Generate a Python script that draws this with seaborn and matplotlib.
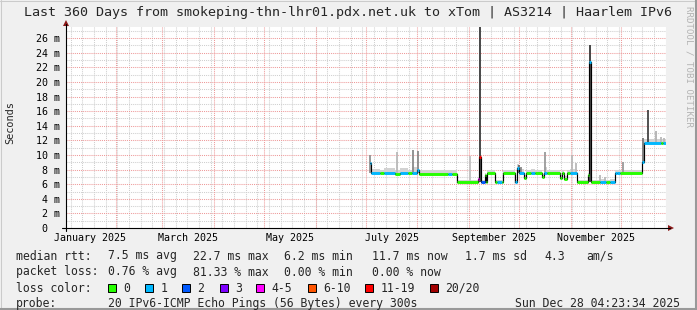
import datetime as dt
import numpy as np
import pandas as pd
import matplotlib
matplotlib.use("Agg")
import matplotlib.pyplot as plt
from matplotlib.patches import Polygon, Rectangle
from matplotlib.lines import Line2D
from matplotlib.transforms import IdentityTransform
import seaborn as sns

# ---------------- data ----------------
title = "Last 360 Days from smokeping-thn-lhr01.pdx.net.uk to xTom | AS3214 | Haarlem IPv6"
start = dt.datetime(2025, 1, 2, 4, 23, 34)
span_days = 360.0

# median rtt steps (day offset from start, median ms, loss class)
seg_day = [182.1, 183.0, 188.4, 190.8, 197.4, 200.4, 205.2, 207.6, 210.6, 211.8,
           229.2, 231.6, 234.6, 247.2, 247.8, 248.7, 251.4, 252.0, 252.6, 257.4,
           258.6, 261.6, 262.2, 269.4, 270.6, 271.8, 274.8, 276.0, 279.0, 281.4,
           285.6, 286.5, 288.6, 296.4, 297.6, 298.5, 300.6, 302.4, 306.6, 313.2,
           313.8, 314.7, 320.4, 324.0, 326.4, 329.4, 330.6, 332.4, 345.6, 346.8,
           357.0, 358.2]
seg_median = [8.9, 7.55, 7.5, 7.55, 7.45, 7.55, 7.5, 7.6, 7.9, 7.45,
              7.45, 7.45, 6.25, 6.7, 9.7, 6.25, 7.3, 6.3, 7.5, 6.3,
              6.3, 6.3, 7.6, 6.3, 8.2, 7.5, 6.9, 7.6, 7.6, 7.6,
              7.0, 7.6, 7.5, 6.9, 7.5, 6.7, 7.6, 7.6, 6.25, 7.2,
              22.8, 6.25, 6.25, 6.25, 6.25, 7.6, 7.5, 7.5, 9.1, 11.7,
              11.7, 11.7]
seg_loss = [1, 1, 0, 1, 0, 1, 0, 1, 1, 0,
            1, 0, 0, 4, 6, 2, 0, 0, 0, 0,
            1, 0, 0, 1, 1, 1, 0, 0, 1, 0,
            0, 1, 0, 0, 0, 0, 0, 1, 0, 0,
            1, 0, 1, 0, 1, 1, 1, 0, 1, 1,
            0, 1]
seg_smoke_hi = [9.4, 8.1, 8.0, 8.2, 8.0, 8.2, 8.0, 8.3, 8.4, 7.9,
                7.9, 7.9, 6.6, 7.0, 10.0, 6.6, 7.6, 6.6, 7.9, 6.6,
                6.6, 6.6, 8.0, 6.7, 8.7, 8.1, 7.3, 8.0, 8.1, 8.0,
                7.4, 8.3, 7.9, 7.3, 7.9, 7.1, 8.0, 8.1, 6.6, 7.6,
                25.1, 6.6, 6.7, 6.6, 6.7, 8.0, 8.0, 7.9, 9.6, 12.2,
                12.2, 12.2]
data_end_day = 360.0

# smoke spikes (day, lowest ping, highest ping, ping density 0..1)
spike_day = [182.1, 198.6, 208.2, 211.2, 242.4, 248.1, 271.8, 273.0, 287.1,
             303.6, 306.0, 314.1, 320.4, 323.4, 334.2, 346.2, 349.2, 354.0,
             357.0, 358.8]
spike_low = [7.6, 7.6, 7.6, 7.6, 6.3, 6.3, 7.5, 7.5, 7.6,
             7.6, 7.6, 6.3, 6.3, 6.3, 7.5, 9.1, 11.7, 11.7,
             11.7, 11.7]
spike_high = [10.0, 10.4, 10.7, 10.6, 9.8, 30.0, 8.6, 8.4, 10.4,
              10.0, 8.9, 25.1, 7.2, 7.0, 9.0, 12.3, 16.2, 13.3,
              12.5, 12.3]
spike_density = [0.45, 0.2, 0.5, 0.5, 0.15, 1.0, 0.7, 0.5, 0.4,
                 0.2, 0.2, 1.0, 0.2, 0.2, 0.4, 0.6, 0.95, 0.25,
                 0.2, 0.2]

loss_labels = ["0", "1", "2", "3", "4-5", "6-10", "11-19", "20/20"]
loss_colors = ["#26ff00", "#00b8ff", "#0059ff", "#7e00ff", "#ff00ff",
               "#ff5500", "#ff0000", "#a10000"]

y_ticks = list(range(0, 27, 2))
y_tick_labels = ["0  "] + [f"{v} m" for v in range(2, 27, 2)]
x_label_months = [1, 3, 5, 7, 9, 11]
x_label_texts = ["January 2025", "March 2025", "May 2025", "July 2025",
                 "September 2025", "November 2025"]

legend_rows = [
    ["median rtt:", "7.5 ms avg", "22.7 ms max", "6.2 ms min", "11.7 ms now", "1.7 ms sd", "4.3", "am/s"],
    ["packet loss:", "0.76 % avg", "81.33 % max", "0.00 % min", "0.00 % now"],
]
probe_text = "20 IPv6-ICMP Echo Pings (56 Bytes) every 300s"
stamp_text = "Sun Dec 28 04:23:34 2025"

# ---------------- layout ----------------
W, H = 697, 310
sns.set_style("white")
plt.rcParams["font.family"] = ["DejaVu Sans Mono", "DejaVu Sans"]
BG = "#F0F0F0"

fig = plt.figure(figsize=(W / 100, H / 100), dpi=100, facecolor=BG)
PX_MS = 7.3
ax = fig.add_axes([66 / W, (H - 228) / H, 600 / W, 201 / H])
ax.set_facecolor("white")
ax.set_xlim(0, span_days)
ax.set_ylim(0, 201 / PX_MS)
for s in ax.spines.values():
    s.set_visible(False)


def day_of(d):
    return (d - start).total_seconds() / 86400.0


# grid
dash = (0, (1, 1))
for v in range(1, 28):
    col = "#EE9A9A" if v % 2 == 0 else "#CFCFCF"
    ax.axhline(v, color=col, lw=0.75, ls=dash, zorder=0.5)
sunday = dt.datetime(2025, 1, 5)
while day_of(sunday) < span_days:
    ax.axvline(day_of(sunday), color="#CFCFCF", lw=0.75, ls=dash, zorder=0.4)
    sunday += dt.timedelta(days=7)
month_starts = [dt.datetime(2025, m, 1) for m in range(2, 13)]
for m in month_starts:
    ax.axvline(day_of(m), color="#EE9A9A", lw=0.75, ls=dash, zorder=0.5)

# smoke
days_ext = seg_day + [data_end_day]
for i in range(len(seg_day)):
    ax.fill_between([days_ext[i], days_ext[i + 1]], [seg_median[i]] * 2,
                    [seg_smoke_hi[i]] * 2, color="#D2D2D2", lw=0, zorder=1)
shades = [str(round(0.85 - 0.62 * d, 3)) for d in spike_density]
ax.vlines(spike_day, spike_low, spike_high, colors=shades, lw=1.3, zorder=1.5)

# median: thin black step line + loss-coloured stripes
df = pd.DataFrame({"day": days_ext, "median": seg_median + [seg_median[-1]]})
sns.lineplot(data=df, x="day", y="median", drawstyle="steps-post", color="black",
             lw=0.85, ax=ax, legend=False, estimator=None, sort=False, zorder=2)
ax.hlines(seg_median, seg_day, days_ext[1:],
          colors=[loss_colors[l] for l in seg_loss], lw=2.1, zorder=3)

# ticks
ax.set_yticks(y_ticks)
ax.set_yticklabels(y_tick_labels)
mid_month = []
for m in x_label_months:
    a = dt.datetime(2025, m, 1)
    b = dt.datetime(2025, m + 1, 1)
    mid_month.append(day_of(a + (b - a) / 2))
ax.set_xticks(mid_month)
ax.set_xticklabels(x_label_texts)
ax.tick_params(axis="y", length=0, pad=4.3, labelsize=7.2, colors="black")
ax.tick_params(axis="x", length=0, pad=3.4, labelsize=7.2, colors="black")
ax.set_xlabel("")
ax.set_ylabel("")

# axes lines and arrows (pixel coordinates)
idt = IdentityTransform()
fig.add_artist(Line2D([62, 670], [H - 228, H - 228], color="black", lw=0.8, transform=idt))
fig.add_artist(Line2D([66, 66], [H - 231, H - 24], color="black", lw=0.8, transform=idt))
fig.add_artist(Polygon([[668, H - 225], [668, H - 231], [674, H - 228]], closed=True,
                       facecolor="#8B1A1A", edgecolor="none", transform=idt))
fig.add_artist(Polygon([[63, H - 26], [69, H - 26], [66, H - 20]], closed=True,
                       facecolor="#8B1A1A", edgecolor="none", transform=idt))

# texts
def ftext(x, y, s, **kw):
    fig.text(x / W, 1 - y / H, s, **kw)

ftext(347.5, 12.5, title, ha="center", va="center", fontsize=9.6)
ftext(10, 122.5, "Seconds", ha="center", va="center", rotation=90, fontsize=7.4)
ftext(688.5, 67, "RRDTOOL / TOBI OETIKER", ha="center", va="center", rotation=270,
      fontsize=6.6, color="#B4B4B4")

LF = 8.3
row_x = [[15.6, 108, 193.3, 284.4, 372.4, 465.3, 544.4, 585.8],
         [15.6, 108, 193.3, 284.4, 372.4]]
row_y = [256, 272]
for r, texts in enumerate(legend_rows):
    for x, s in zip(row_x[r], texts):
        ftext(x, row_y[r], s, ha="left", va="center", fontsize=LF)

ftext(15.6, 288, "loss color:", ha="left", va="center", fontsize=LF)
box_x = [108, 145.3, 182, 219.6, 256.4, 307.6, 365.3, 430]
for bx, col, lab in zip(box_x, loss_colors, loss_labels):
    fig.add_artist(Rectangle((bx, H - 292), 8, 8, facecolor=col, edgecolor="black",
                             lw=0.7, transform=idt))
    ftext(bx + 15.5, 288, lab, ha="left", va="center", fontsize=LF)

ftext(15.6, 303.5, "probe:", ha="left", va="center", fontsize=LF)
ftext(108, 303.5, probe_text, ha="left", va="center", fontsize=LF)
ftext(680, 303.5, stamp_text, ha="right", va="center", fontsize=LF)

# frame shading
fig.add_artist(Line2D([0, W], [H - 0.5, H - 0.5], color="#CBCBCB", lw=0.75, transform=idt))
fig.add_artist(Line2D([0.5, 0.5], [0, H], color="#CBCBCB", lw=0.75, transform=idt))
fig.add_artist(Line2D([0, W], [1, 1], color="#999999", lw=1.5, transform=idt))
fig.add_artist(Line2D([W - 1, W - 1], [0, H], color="#999999", lw=1.5, transform=idt))

fig.savefig("out.png", dpi=100, facecolor=BG)
